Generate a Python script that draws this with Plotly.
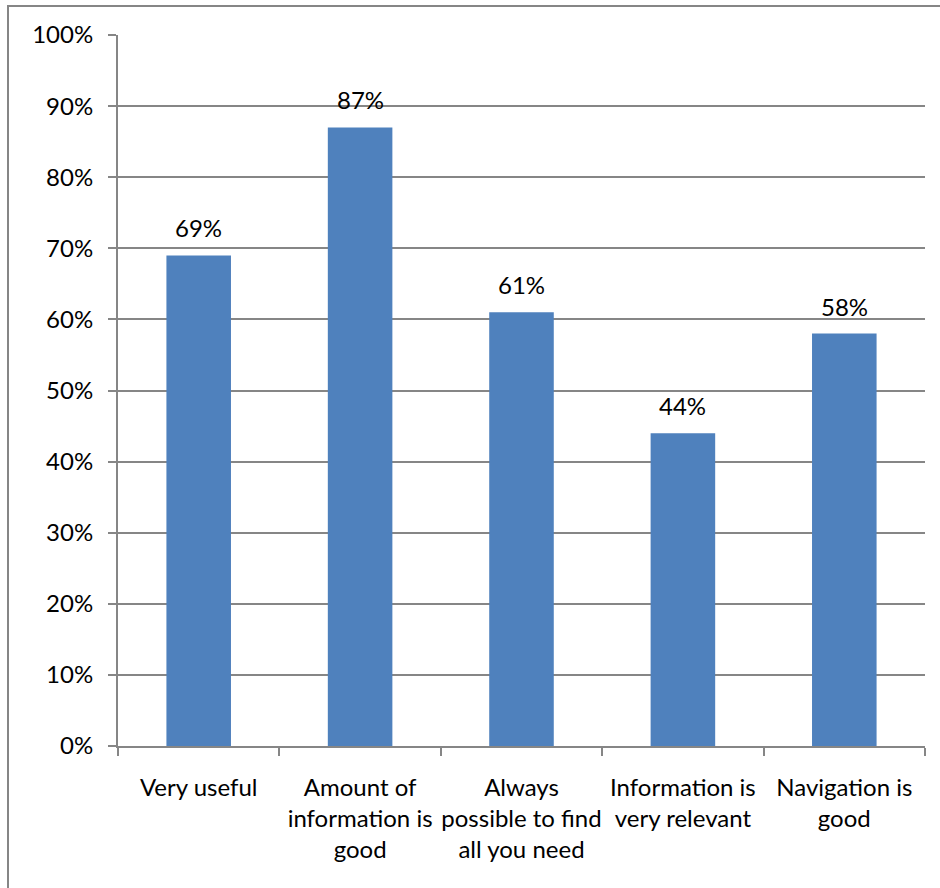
import plotly.graph_objects as go

categories = ["Very useful", "Amount of<br>information is<br>good", "Always<br>possible to find<br>all you need",
              "Information is<br>very relevant", "Navigation is<br>good"]
values = [0.69, 0.87, 0.61, 0.44, 0.58]
labels = ["69%", "87%", "61%", "44%", "58%"]
y_ticks = [i / 10 for i in range(11)]
y_tick_text = [f"{i*10}%" for i in range(11)]

FONT = "Lato"
FS = 24
GRAY = "#868686"

fig = go.Figure(go.Bar(
    x=categories, y=values, marker_color="#4F81BD", marker_line_width=0,
    hoverinfo="skip",
))
for c, v, t in zip(categories, values, labels):
    fig.add_annotation(x=c, y=v, text=t, showarrow=False, yanchor="bottom",
                       yshift=11, font=dict(family=FONT, size=FS, color="black"))

W, H = 940, 888
L, R, T, B = 118, 15, 35, 142
pw = W - L - R
ph = H - T - B

fig.update_layout(
    width=W, height=H, autosize=False,
    margin=dict(l=L, r=R, t=T, b=B, autoexpand=False),
    plot_bgcolor="white", paper_bgcolor="white",
    bargap=0.6, showlegend=False,
    font=dict(family=FONT, size=FS, color="black"),
)
fig.update_xaxes(
    automargin=False, tickangle=0,
    showline=True, linecolor=GRAY, linewidth=2,
    ticks="outside", ticklen=8, tickcolor=GRAY, tickwidth=2,
    tickson="boundaries", showgrid=False,
    tickfont=dict(family=FONT, size=FS, color="black"),
    ticklabelstandoff=19,
)
fig.update_yaxes(
    automargin=False,
    range=[0, 1], tickvals=y_ticks, ticktext=y_tick_text,
    showline=True, linecolor=GRAY, linewidth=2,
    ticks="outside", ticklen=8, tickcolor=GRAY, tickwidth=2,
    showgrid=True, gridcolor=GRAY, gridwidth=2, zeroline=False,
    tickfont=dict(family=FONT, size=FS, color="black"),
    ticklabelstandoff=10,
)
# outer chart frame (right/bottom edges beyond the visible area)
fig.add_shape(type="rect", xref="paper", yref="paper",
              x0=(8 - L) / pw, x1=(W + 10 - L) / pw,
              y0=-(H + 10 - T - ph) / ph, y1=(H - 6 - B) / ph,
              line=dict(color=GRAY, width=2), fillcolor="rgba(0,0,0,0)", layer="below")

fig.write_html(
    "out.html",
    config={"responsive": False, "displayModeBar": False},
    post_script="document.body.style.margin='0';document.body.style.overflow='hidden';"
                "Plotly.relayout('{plot_id}', {width: 940, height: 888});",
)
